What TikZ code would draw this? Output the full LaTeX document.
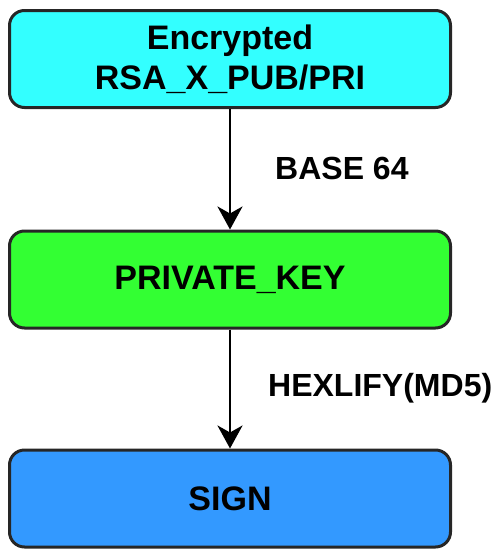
\documentclass[tikz,border=0pt]{standalone}
\usepackage{fontspec}
\setmainfont{Liberation Sans}
\usetikzlibrary{arrows.meta}

\definecolor{encfill}{HTML}{33FFFF}
\definecolor{keyfill}{HTML}{33FF33}
\definecolor{signfill}{HTML}{3399FF}

\tikzset{
    stagebox/.style={draw=black!85, line width=3pt, rounded corners=15pt,
        minimum width=441pt, minimum height=97pt, inner sep=0pt,
        align=center, font=\fontsize{34}{40}\selectfont\bfseries},
    flowarrow/.style={line width=2.8pt, -{Stealth[length=23pt, width=25pt, inset=7pt]}},
    flowlabel/.style={anchor=west, inner sep=0pt, font=\fontsize{32}{38}\selectfont\bfseries}
}

\begin{document}
\begin{tikzpicture}[x=1pt, y=-1pt]

    % Canvas
    \useasboundingbox (0, 0) rectangle (494, 549);

    % Boxes
    \node[stagebox, fill=encfill] (enc) at (230, 59) {Encrypted\\RSA\_X\_PUB/PRI};
    \node[stagebox, fill=keyfill] (key) at (230, 279.5) {PRIVATE\_KEY};
    \node[stagebox, fill=signfill] (sign) at (230, 498.5) {SIGN};

    % Arrows
    \draw[flowarrow] (enc.south) -- (key.north);
    \draw[flowarrow] (key.south) -- (sign.north);

    % Labels
    \node[flowlabel] (b64) at (275, 168) {BASE 64};
    \node[flowlabel] (hex) at (268, 388) {HEXLIFY(MD5)};

\end{tikzpicture}
\end{document}
